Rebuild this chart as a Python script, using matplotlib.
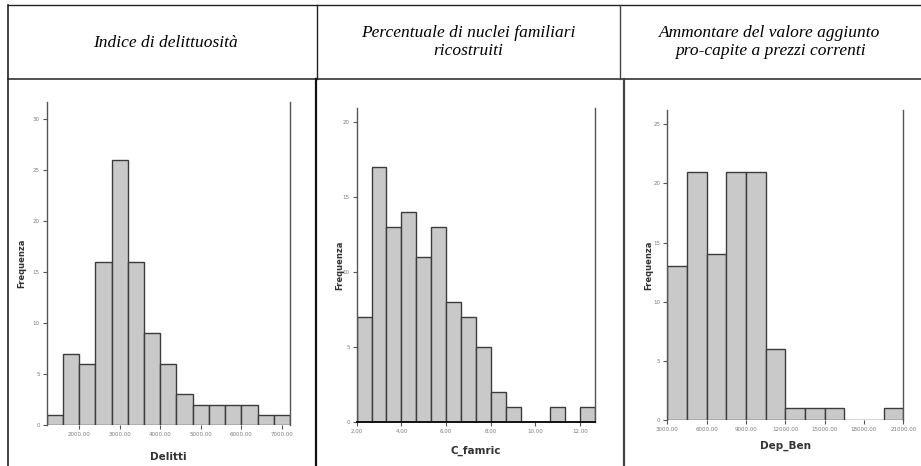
import matplotlib
matplotlib.use('Agg')
import matplotlib.pyplot as plt
import numpy as np

W, H = 921, 466
BAR_COLOR = '#c9c9c9'
EDGE_COLOR = '#3c3c3c'
TICK_COLOR = '#7a7a7a'

# header texts
headers = [
    'Indice di delittuosità',
    'Percentuale di nuclei familiari\nricostruiti',
    'Ammontare del valore aggiunto\npro-capite a prezzi correnti',
]

# histogram data (bin edges and frequencies)
delitti_edges = [1200, 1600, 2000, 2400, 2800, 3200, 3600, 4000, 4400,
                 4800, 5200, 5600, 6000, 6400, 6800, 7200]
delitti_counts = [1, 7, 6, 16, 26, 16, 9, 6, 3, 2, 2, 2, 2, 1, 1]
delitti_xticks = [2000, 3000, 4000, 5000, 6000, 7000]
delitti_yticks = [0, 5, 10, 15, 20, 25, 30]

famric_edges = [2.0, 2.667, 3.333, 4.0, 4.667, 5.333, 6.0, 6.667, 7.333,
                8.0, 8.667, 9.333, 10.0, 10.667, 11.333, 12.0, 12.667]
famric_counts = [7, 17, 13, 14, 11, 13, 8, 7, 5, 2, 1, 0, 0, 1, 0, 1]
famric_xticks = [2, 4, 6, 8, 10, 12]
famric_yticks = [0, 5, 10, 15, 20]

depben_edges = [3000, 4500, 6000, 7500, 9000, 10500, 12000, 13500, 15000,
                16500, 18000, 19500, 21000]
depben_counts = [13, 21, 14, 21, 21, 6, 1, 1, 1, 0, 0, 1]
depben_xticks = [3000, 6000, 9000, 12000, 15000, 18000, 21000]
depben_yticks = [0, 5, 10, 15, 20, 25]

fig = plt.figure(figsize=(W / 100, H / 100), dpi=100)
fig.patch.set_facecolor('white')

# overlay in pixel coords for the table grid
grid = fig.add_axes([0, 0, 1, 1])
grid.set_xlim(0, W)
grid.set_ylim(H, 0)
grid.axis('off')
lc = '#222222'
grid.plot([8, W], [5, 5], color=lc, lw=1.0)
grid.plot([8, W], [79, 79], color=lc, lw=1.1)
grid.plot([8, 8], [5, H], color=lc, lw=1.2)
grid.plot([316.7, 316.7], [5, 79], color=lc, lw=1.0)
grid.plot([620, 620], [5, 79], color='#444444', lw=1.0)
grid.plot([316, 316], [79, H], color='#111111', lw=1.6)
grid.plot([624, 624], [79, H], color='#444444', lw=1.6)

hdr = dict(ha='center', va='center', fontsize=12.5, family='Liberation Serif',
           style='italic', linespacing=1.15)
grid.text(165, 43, headers[0], **hdr)
grid.text(468, 42, headers[1], **hdr)
grid.text(770, 42, headers[2], **hdr)


def panel(box, edges, counts, xticks, yticks, ytop, xfmt, xlabel,
          ylab_x, xlab_y, bottom_spine):
    x0, x1, ytp, ybt = box
    ax = fig.add_axes([x0 / W, 1 - ybt / H, (x1 - x0) / W, (ybt - ytp) / H])
    edges = np.array(edges)
    ax.bar(edges[:-1], counts, width=np.diff(edges), align='edge',
           color=BAR_COLOR, edgecolor=EDGE_COLOR, linewidth=1.0)
    ax.set_xlim(edges[0], edges[-1])
    ax.set_ylim(0, ytop)
    ax.spines['top'].set_visible(False)
    for s in ('left', 'right'):
        ax.spines[s].set_color('#555555')
        ax.spines[s].set_linewidth(1.0)
    if bottom_spine:
        ax.spines['bottom'].set_color('#111111')
        ax.spines['bottom'].set_linewidth(1.4)
    else:
        ax.spines['bottom'].set_visible(False)
    ax.set_xticks(xticks)
    ax.set_xticklabels([xfmt % v for v in xticks])
    ax.set_yticks(yticks)
    ax.set_yticklabels([str(v) for v in yticks])
    ax.tick_params(axis='both', labelsize=4, colors='#555555',
                   labelcolor=TICK_COLOR, length=3, width=0.8, pad=2)
    ax.set_facecolor('white')
    fig.text(ylab_x / W, 1 - (ytp + ybt) / 2 / H, 'Frequenza', rotation=90,
             ha='center', va='center', fontsize=6, fontweight='bold',
             color='#333333')
    fig.text((x0 + x1) / 2 / W, 1 - xlab_y / H, xlabel, ha='center',
             va='center', fontsize=7.5, fontweight='bold', color='#333333')
    return ax


panel((46.7, 290, 101.7, 425), delitti_edges, delitti_counts, delitti_xticks,
      delitti_yticks, 31.7, '%.2f', 'Delitti', 22, 457, False)
panel((356.7, 595, 108, 421.7), famric_edges, famric_counts, famric_xticks,
      famric_yticks, 20.9, '%.2f', 'C_famric', 340, 451, True)
panel((667.3, 903.3, 110, 420), depben_edges, depben_counts, depben_xticks,
      depben_yticks, 26.2, '%.2f', 'Dep_Ben', 649, 446, False)

fig.savefig('out.png', dpi=100)
